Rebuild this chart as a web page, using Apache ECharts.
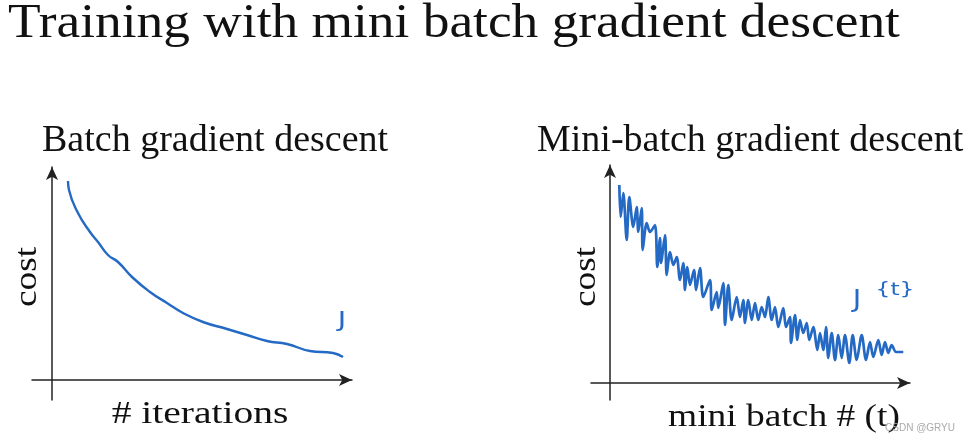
<!DOCTYPE html>
<html>
<head>
<meta charset="utf-8">
<script src="https://cdn.jsdelivr.net/npm/echarts@6/dist/echarts.min.js"></script>
<style>
html,body{margin:0;padding:0;background:#fff;}
#main{width:971px;height:442px;}
</style>
</head>
<body>
<div id="main"></div>
<script>
// Batch gradient descent: [iteration, cost]
var batchIter = [16, 17, 26, 38, 46, 56, 66, 80, 98, 115, 131, 151, 175, 195, 215, 235, 258, 281, 291];
var batchCost = [199, 190, 167, 148, 138, 125, 118, 103, 88, 77, 67, 58, 51, 45, 39, 36, 29, 27, 23];

// Mini-batch gradient descent: [t, cost] (noisy)
var miniT = [9.3, 10.7, 13.3, 16.7, 19.3, 23.3, 26.7, 28.3, 31.7, 32.7, 36.7, 40, 45, 47.3, 50, 51,
  55, 56.7, 60, 63.3, 66.7, 70, 73.3, 75, 77.3, 80, 84, 86, 90, 93.3, 100, 101.7, 106.7, 108.3,
  113.3, 115, 118.3, 121.7, 126.7, 130, 133.3, 135, 138.3, 141.7, 145, 148.3, 151.7, 155, 158.3,
  161.7, 165, 168.3, 173.3, 176, 180, 181, 185, 187.3, 190, 193.3, 196.7, 199.3, 203.3, 207.3,
  210, 213.3, 216, 218.3, 221.7, 225, 228.3, 231.7, 235, 239.3, 242.7, 246.7, 251.7, 256, 260,
  263.3, 268.3, 271.7, 275, 278.3, 281.7, 286, 293.3];
var miniCost = [198, 166, 190, 143, 186, 156, 176, 151, 175, 133, 160, 151, 158, 116, 145, 120,
  148, 108, 131, 118, 126, 103, 120, 93, 116, 98, 113, 93, 115, 86, 103, 73, 91, 75,
  100, 58, 98, 63, 86, 66, 83, 60, 83, 63, 80, 63, 76, 66, 86,
  63, 76, 56, 75, 56, 66, 40, 68, 43, 63, 50, 60, 43, 56, 33,
  50, 33, 56, 25, 50, 23, 48, 25, 48, 20, 48, 23, 48, 23, 41,
  26, 43, 28, 41, 30, 38, 31, 31];

var titleText = 'Training with mini batch gradient descent';
var leftTitle = 'Batch gradient descent';
var rightTitle = 'Mini-batch gradient descent';
var yName = 'cost';
var leftXName = '# iterations';
var rightXName = 'mini batch # (t)';
var leftNote = 'J';
var rightNote = 'J';
var rightNoteSup = '{t}';

function zip(a, b) { return a.map(function (v, i) { return [v, b[i]]; }); }

var chart = echarts.init(document.getElementById('main'), null, {renderer: 'canvas'});
var serif = "'Liberation Serif', 'DejaVu Serif', serif";
var blue = '#2469c4';
var ink = '#111';
var axisLine = {
  onZero: true,
  symbol: ['none', 'arrow'],
  symbolSize: [9, 13],
  lineStyle: {color: '#222', width: 1.5}
};
function ax(min, max) {
  return {
    type: 'value', min: min, max: max,
    axisLine: axisLine, axisTick: {show: false}, axisLabel: {show: false},
    splitLine: {show: false}
  };
}
function txt(s, x, y, size, opts) {
  opts = opts || {};
  return {
    type: 'text', x: x, y: y, rotation: opts.rotation || 0,
    scaleX: opts.scaleX || 1, scaleY: opts.scaleY || 1,
    style: {
      text: s, font: (opts.weight ? opts.weight + ' ' : '') + size + 'px ' + (opts.family || serif),
      fill: opts.fill || ink, textAlign: opts.align || 'left', textVerticalAlign: 'middle'
    }
  };
}
chart.setOption({
  animation: false,
  backgroundColor: '#fff',
  grid: [
    {left: 32, top: 167, width: 320, height: 233},
    {left: 591, top: 165, width: 319, height: 235}
  ],
  xAxis: [
    Object.assign(ax(-20, 300), {gridIndex: 0}),
    Object.assign(ax(-19, 300), {gridIndex: 1})
  ],
  yAxis: [
    Object.assign(ax(-20, 213), {gridIndex: 0}),
    Object.assign(ax(-17, 218), {gridIndex: 1})
  ],
  series: [
    {type: 'line', xAxisIndex: 0, yAxisIndex: 0, data: zip(batchIter, batchCost),
     showSymbol: false, smooth: true, lineStyle: {color: blue, width: 2.4}},
    {type: 'line', xAxisIndex: 1, yAxisIndex: 1, data: zip(miniT, miniCost),
     showSymbol: false, smooth: 0.3, lineStyle: {color: blue, width: 2.7}}
  ],
  graphic: [
    txt(titleText, 8, 24, 48, {scaleX: 1.112}),
    txt(leftTitle, 42, 141, 38),
    txt(rightTitle, 537, 141, 38),
    txt(yName, 28, 277, 31, {rotation: Math.PI / 2, scaleX: 1.2, align: 'center'}),
    txt(yName, 587, 277, 31, {rotation: Math.PI / 2, scaleX: 1.2, align: 'center'}),
    txt(leftXName, 200, 415, 32, {scaleX: 1.235, align: 'center'}),
    txt(rightXName, 784, 418, 32, {scaleX: 1.17, align: 'center'}),
    txt(leftNote, 342, 321, 22, {family: '"DejaVu Sans"', fill: blue, align: 'center', scaleX: 1.3}),
    txt(rightNote, 857, 301, 24, {family: '"DejaVu Sans"', fill: blue, align: 'center', scaleX: 1.2}),
    txt(rightNoteSup, 895, 290, 18, {family: '"DejaVu Sans"', fill: blue, align: 'center', scaleX: 1.3}),
    txt('CSDN @GRYU', 955, 428, 10, {family: '"Liberation Sans"', fill: '#aaa', align: 'right'})
  ]
});
</script>
</body>
</html>
